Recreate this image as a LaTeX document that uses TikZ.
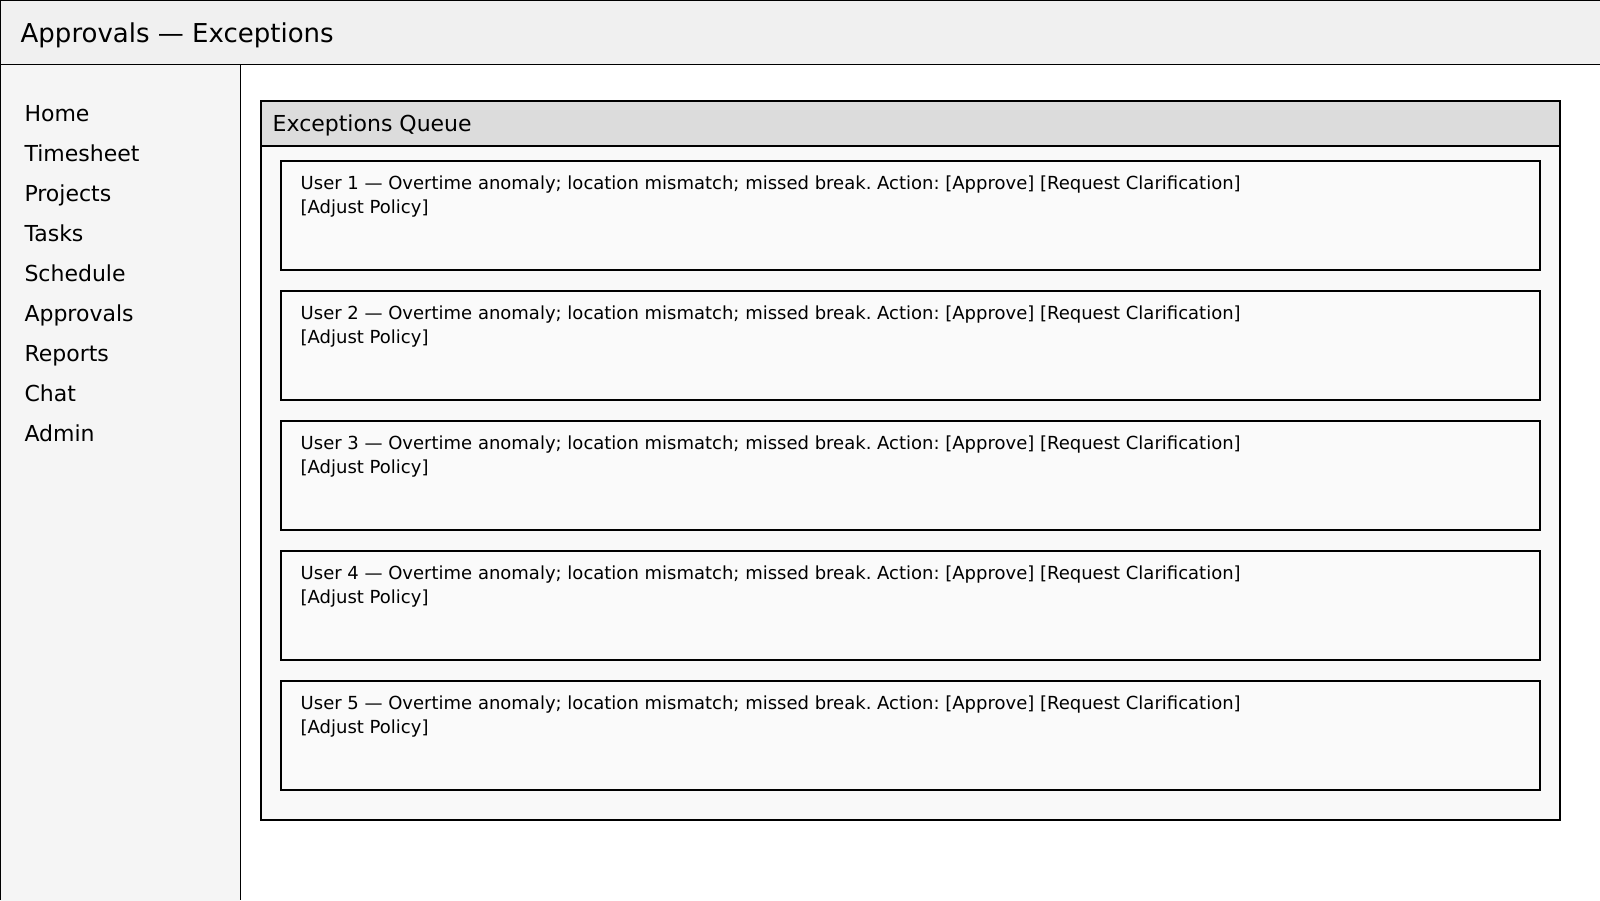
\documentclass[tikz,border=0pt]{standalone}
\usepackage{fontspec}
\setmainfont{DejaVu Sans}
\frenchspacing
\definecolor{hdrbg}{HTML}{F0F0F0}
\definecolor{sidebg}{HTML}{F5F5F5}
\definecolor{panhead}{HTML}{DCDCDC}
\definecolor{panbody}{HTML}{F9F9F9}
\definecolor{cardbg}{HTML}{FAFAFA}
\tikzset{
  box/.style={anchor=north west, inner sep=0pt, outer sep=0pt},
  navitem/.style={anchor=base west, inner sep=0pt, font=\fontsize{22}{26}\selectfont},
  cardtext/.style={anchor=base west, inner sep=0pt, align=left, font=\fontsize{18}{24}\selectfont},
}
\begin{document}
\begin{tikzpicture}[x=1pt,y=-1pt]
\useasboundingbox (0,0) rectangle (1600,900);
\fill[white] (0,0) rectangle (1600,900);
% top bar
\node[box, fill=hdrbg, minimum width=1600pt, minimum height=64pt] (topbar) at (0,0) {};
\draw[line width=1pt] (0,0.5) -- (1600,0.5);
\draw[line width=1pt] (0,64) -- (1600,64);
\node[anchor=base west, inner sep=0pt, font=\fontsize{26}{30}\selectfont] (title) at (20.5,42.7) {Approvals — Exceptions};
% sidebar
\node[box, fill=sidebg, minimum width=240pt, minimum height=836pt] (sidebar) at (0,64.5) {};
\draw[line width=1pt] (240,64) -- (240,900);
\draw[line width=1pt] (0.5,0) -- (0.5,900);
\foreach \t [count=\i from 0] in {Home,Timesheet,Projects,Tasks,Schedule,Approvals,Reports,Chat,Admin} {
  \node[navitem] (nav\i) at (24.3,121.5+40*\i) {\t};
}
% panel
\node[box, draw, line width=2pt, fill=panbody, minimum width=1299pt, minimum height=719pt] (panel) at (261,101) {};
\node[box, draw, line width=2pt, fill=panhead, minimum width=1299pt, minimum height=45pt] (panelhead) at (261,101) {};
\node[anchor=base west, inner sep=0pt, font=\fontsize{22}{26}\selectfont] (paneltitle) at (272.5,131.5) {Exceptions Queue};
% cards
\foreach \i in {1,...,5} {
  \node[box, draw, line width=2pt, fill=cardbg, minimum width=1259pt, minimum height=109pt] (card\i) at (281,161+130*\i-130) {};
  \node[cardtext] (cardtxt\i) at (300.5,213.2+130*\i-130) {User \i\ — Overtime anomaly; location mismatch; missed break. Action: [Approve] [Request Clarification]\\{}[Adjust Policy]};
}
\end{tikzpicture}
\end{document}
